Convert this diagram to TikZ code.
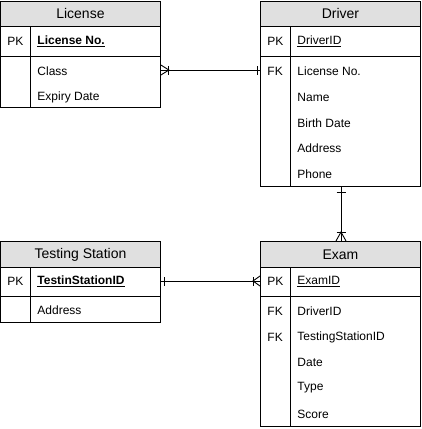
\documentclass[tikz,border=0pt]{standalone}
\usepackage{fontspec}
\setmainfont{Liberation Sans}
\definecolor{hdrgray}{RGB}{224,224,224}
\begin{document}
\begin{tikzpicture}[x=1pt,y=-1pt,line width=0.9pt,
  box/.style={draw,rectangle,inner sep=0pt,anchor=north west},
  hdr/.style={draw,rectangle,inner sep=0pt,anchor=north west,fill=hdrgray,font=\fontsize{14}{16}\selectfont},
  attr/.style={anchor=west,inner sep=0pt,font=\fontsize{12}{14}\selectfont},
  rel/.style={line width=0.9pt}]
\useasboundingbox (0,0) rectangle (421,429);

% ---------- License ----------
\node[box,minimum width=160pt,minimum height=106pt] (lic) at (0,1) {};
\node[hdr,minimum width=160pt,minimum height=25pt] (lich) at (0,1) {License};
\draw (0,56) -- (160,56);
\draw (30,26) -- (30,107);
\node[attr] (licpk) at (7,41.5) {PK};
\node[attr] (licno) at (37,41.5) {\underline{\textbf{License No.}}};
\node[attr] (liccls) at (37,71) {Class};
\node[attr] (licexp) at (37,97) {Expiry Date};

% ---------- Driver ----------
\node[box,minimum width=160pt,minimum height=185pt] (drv) at (260,1) {};
\node[hdr,minimum width=160pt,minimum height=25pt] (drvh) at (260,1) {Driver};
\draw (260,56) -- (420,56);
\draw (290,26) -- (290,186);
\node[attr] (drvpk) at (267,41.5) {PK};
\node[attr] (drvid) at (297,41.5) {\underline{DriverID}};
\node[attr] (drvfk) at (267,71) {FK};
\node[attr] (drvlic) at (297,71) {License No.};
\node[attr] (drvname) at (297,97) {Name};
\node[attr] (drvbirth) at (297,123) {Birth Date};
\node[attr] (drvaddr) at (297,148) {Address};
\node[attr] (drvphone) at (297,174) {Phone};

% ---------- Testing Station ----------
\node[box,minimum width=160pt,minimum height=81pt] (ts) at (0,241) {};
\node[hdr,minimum width=160pt,minimum height=26pt] (tsh) at (0,241) {Testing Station};
\draw (0,296) -- (160,296);
\draw (30,267) -- (30,322);
\node[attr] (tspk) at (7,281.5) {PK};
\node[attr] (tsid) at (37,281.5) {\underline{\textbf{TestinStationID}}};
\node[attr] (tsaddr) at (37,310) {Address};

% ---------- Exam ----------
\node[box,minimum width=160pt,minimum height=185pt] (ex) at (260,241) {};
\node[hdr,minimum width=160pt,minimum height=26pt] (exh) at (260,241) {Exam};
\draw (260,296) -- (420,296);
\draw (290,267) -- (290,426);
\node[attr] (expk) at (267,281.5) {PK};
\node[attr] (exid) at (297,281.5) {\underline{ExamID}};
\node[attr] (exfk1) at (267,311) {FK};
\node[attr] (exdrv) at (297,311) {DriverID};
\node[attr] (exfk2) at (267,337) {FK};
\node[attr] (exts) at (297,337) {TestingStationID};
\node[attr] (exdate) at (297,362) {Date};
\node[attr] (extype) at (297,388) {Type};
\node[attr] (exscore) at (297,414) {Score};

% ---------- Relationships ----------
% License -- Driver
\coordinate (r1a) at (lic.east |- 0,70);
\coordinate (r1b) at (drv.west |- 0,70);
\draw[rel] (r1a) -- (r1b);
\draw[rel] ([yshift=-5pt]r1a) -- ([xshift=8pt]r1a) -- ([yshift=5pt]r1a);
\draw[rel] ([xshift=8pt,yshift=-4.5pt]r1a) -- ([xshift=8pt,yshift=4.5pt]r1a);
\draw[rel] ([xshift=-3pt,yshift=-4.5pt]r1b) -- ([xshift=-3pt,yshift=4.5pt]r1b);

% Driver -- Exam
\coordinate (r2a) at (drv.south -| 341,0);
\coordinate (r2b) at (exh.north -| 341,0);
\draw[rel] (r2a) -- (r2b);
\draw[rel] ([xshift=-4.5pt,yshift=-6pt]r2a) -- ([xshift=4.5pt,yshift=-6pt]r2a);
\draw[rel] ([xshift=-5pt]r2b) -- ([yshift=9pt]r2b) -- ([xshift=5pt]r2b);
\draw[rel] ([xshift=-4.5pt,yshift=9pt]r2b) -- ([xshift=4.5pt,yshift=9pt]r2b);

% Testing Station -- Exam
\coordinate (r3a) at (ts.east |- 0,281);
\coordinate (r3b) at (ex.west |- 0,281);
\draw[rel] (r3a) -- (r3b);
\draw[rel] ([xshift=4pt,yshift=-4.5pt]r3a) -- ([xshift=4pt,yshift=4.5pt]r3a);
\draw[rel] ([yshift=-5pt]r3b) -- ([xshift=-7pt]r3b) -- ([yshift=5pt]r3b);
\draw[rel] ([xshift=-7pt,yshift=-4.5pt]r3b) -- ([xshift=-7pt,yshift=4.5pt]r3b);
\end{tikzpicture}
\end{document}
